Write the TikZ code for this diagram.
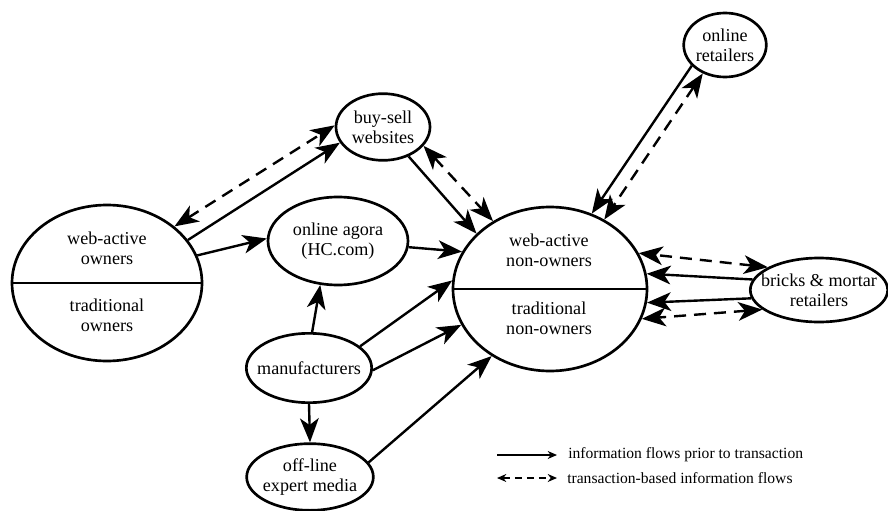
\documentclass[tikz,border=0pt]{standalone}
\usepackage{fontspec}
\setmainfont{Liberation Serif}
\usetikzlibrary{shapes.geometric, arrows.meta, positioning}

\begin{document}
\begin{tikzpicture}[x=0.75pt, y=-0.75pt,
      font=\fontsize{13.6}{15}\selectfont,
      grp/.style={ellipse, draw, line width=2pt, inner sep=0pt, align=center},
      txt/.style={align=center, inner sep=0pt},
      flow/.style={-{Stealth[length=18pt, width=14pt, inset=5pt]}, line width=1.8pt},
      trans/.style={{Stealth[length=18pt, width=14pt, inset=5pt]}-{Stealth[length=18pt, width=14pt, inset=5pt]}, line width=1.8pt, dash pattern=on 9pt off 6pt},
      legflow/.style={-{Stealth[length=7pt, width=6pt]}, line width=0.9pt},
      legtrans/.style={{Stealth[length=7pt, width=6pt]}-{Stealth[length=7pt, width=6pt]}, line width=0.9pt, dash pattern=on 5pt off 4pt},
      legtxt/.style={anchor=west, inner sep=0pt, font=\fontsize{11.7}{14}\selectfont}]
    \useasboundingbox (0,0) rectangle (888,510);
    \node[grp, minimum width=142.5pt, minimum height=117pt] (own) at (107,283) {};
    \draw[line width=2pt] (own.west) -- (own.east);
    \node[txt] (ownA) at (107,248) {web-active\\owners};
    \node[txt] (ownB) at (107,315) {traditional\\owners};
    \node[grp, minimum width=145.5pt, minimum height=123pt] (non) at (550,289) {};
    \draw[line width=2pt] (non.west) -- (non.east);
    \node[txt] (nonA) at (549,250) {web-active\\non-owners};
    \node[txt] (nonB) at (549,318) {traditional\\non-owners};
    \node[grp, minimum width=70.5pt, minimum height=50pt] (bs) at (383,127) {buy-sell\\websites};
    \node[grp, minimum width=105pt, minimum height=66pt] (ag) at (338,241) {online agora\\(HC.com)};
    \node[grp, minimum width=60pt, minimum height=48pt] (ret) at (725,45) {online\\retailers};
    \node[grp, minimum width=102pt, minimum height=48pt, inner xsep=-7pt] (bm) at (819,290) {bricks \& mortar\\retailers};
    \node[grp, minimum width=94pt, minimum height=52pt, inner xsep=-7pt] (man) at (309,368) {manufacturers};
    \node[grp, minimum width=95pt, minimum height=50pt, inner xsep=-2pt] (med) at (310,477) {off-line\\expert media};
    \draw[flow] (own.28) -- (bs.200);
    \draw[trans] (own.40) -- (bs.178);
    \draw[flow] (own.17) -- (ag.178);
    \draw[flow] (ag.355) -- (non.157);
    \draw[flow] (bs.311) -- (non.143);
    \draw[trans] (bs.335) -- (non.130);
    \draw[flow] (ret.212) -- (non.61);
    \draw[trans] (ret.232) -- (non.52);
    \draw[trans] (bm.156) -- (non.22);
    \draw[flow] (bm.171) -- (non.9);
    \draw[flow] (bm.187) -- (non.352);
    \draw[trans] (bm.199) -- (non.342);
    \draw[flow] (man.85) -- (ag.248);
    \draw[flow] (man.23) -- (non.175);
    \draw[flow] (man.358) -- (non.202);
    \draw[flow] (man.south) -- (med.north);
    \draw[flow] (med.14) -- (non.229);
    % legend:
    \node[legtxt] (leg1) at (568,455) {information flows prior to transaction};
    \node[legtxt] (leg2) at (567,478) {transaction-based information flows};
    \coordinate (leg1s) at (497,455);
    \coordinate (leg1e) at (557,455);
    \coordinate (leg2s) at (497,478);
    \coordinate (leg2e) at (557,478);
    \draw[legflow] (leg1s) -- (leg1e);
    \draw[legtrans] (leg2s) -- (leg2e);
\end{tikzpicture}
\end{document}
